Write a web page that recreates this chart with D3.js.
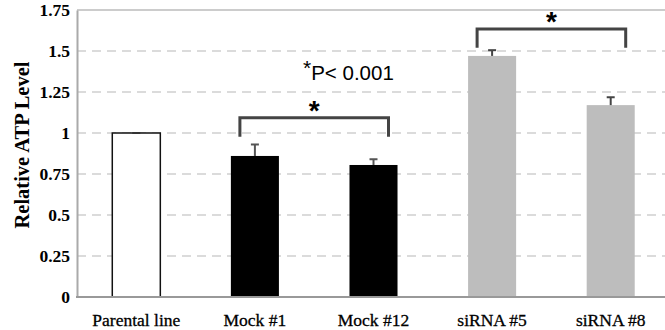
<!DOCTYPE html>
<html>
<head>
<meta charset="utf-8">
<script src="https://cdn.jsdelivr.net/npm/d3@7"></script>
<style>
  body { margin: 0; background: #fff; }
  svg { display: block; }
</style>
</head>
<body>
<script>
// data
var categories = ["Parental line", "Mock #1", "Mock #12", "siRNA #5", "siRNA #8"];
var values = [1.0, 0.86, 0.805, 1.47, 1.17];
var errors = [0.0, 0.07, 0.035, 0.035, 0.048];
var yTicks = [0, 0.25, 0.5, 0.75, 1, 1.25, 1.5, 1.75];
var tickLabels = ["0", "0.25", "0.5", "0.75", "1", "1.25", "1.5", "1.75"];
// significance brackets: [from, to, top, leg bottom]
var brackets = [[1, 2, 1.093, 0.977], [3, 4, 1.634, 1.52]];

var fills = ["#fff", "#000", "#000", "#bdbdbd", "#bdbdbd"];
var errColor = ["#333", "#555", "#555", "#444", "#444"];

var width = 665, height = 330;
var margin = {top: 10, right: -5, bottom: 33, left: 77};

var svg = d3.select("body").append("svg")
    .attr("width", width)
    .attr("height", height);

var x = d3.scaleBand()
    .domain(categories)
    .range([margin.left, width - margin.right])
    .paddingInner(0.595)
    .paddingOuter(0.2975);

var y = d3.scaleLinear()
    .domain([0, 1.75])
    .range([height - margin.bottom, margin.top]);

// gridlines
svg.selectAll(".grid")
    .data(yTicks.filter(function(d) { return d > 0 && d < 1.75; }))
    .enter().append("line")
    .attr("class", "grid")
    .attr("x1", margin.left)
    .attr("x2", width)
    .attr("y1", function(d) { return y(d); })
    .attr("y2", function(d) { return y(d); })
    .attr("stroke", "#cfcfcf")
    .attr("stroke-width", 1.5)
    .attr("stroke-dasharray", "9,6");

// top border
svg.append("line")
    .attr("x1", margin.left).attr("x2", width)
    .attr("y1", y(1.75)).attr("y2", y(1.75))
    .attr("stroke", "#bbb")
    .attr("stroke-width", 1.5);

// y axis
var yAxis = d3.axisLeft(y)
    .tickValues(yTicks)
    .tickFormat(function(d, i) { return tickLabels[i]; })
    .tickSize(0)
    .tickPadding(7);

var gy = svg.append("g")
    .attr("transform", "translate(" + margin.left + ",0)")
    .call(yAxis);
gy.select(".domain").attr("stroke", "#aaa").attr("stroke-width", 2);
gy.selectAll("text")
    .style("font-family", "'Liberation Serif', serif")
    .style("font-weight", "bold")
    .style("font-size", "17.5px")
    .attr("fill", "#000");

// bars
svg.selectAll(".bar")
    .data(values)
    .enter().append("rect")
    .attr("class", "bar")
    .attr("x", function(d, i) { return x(categories[i]); })
    .attr("width", x.bandwidth())
    .attr("y", function(d) { return y(d); })
    .attr("height", function(d) { return y(0) - y(d); })
    .attr("fill", function(d, i) { return fills[i]; })
    .attr("stroke", function(d, i) { return i == 0 ? "#111" : "none"; })
    .attr("stroke-width", 1.5);

// error bars
var eb = svg.selectAll(".err")
    .data(values)
    .enter().append("g")
    .attr("class", "err")
    .attr("stroke", function(d, i) { return errColor[i]; })
    .attr("stroke-width", 2);

eb.append("line")
    .attr("x1", function(d, i) { return x(categories[i]) + x.bandwidth() / 2; })
    .attr("x2", function(d, i) { return x(categories[i]) + x.bandwidth() / 2; })
    .attr("y1", function(d) { return y(d); })
    .attr("y2", function(d, i) { return y(d + errors[i]); });

eb.append("line")
    .attr("x1", function(d, i) { return x(categories[i]) + x.bandwidth() / 2 - 4; })
    .attr("x2", function(d, i) { return x(categories[i]) + x.bandwidth() / 2 + 4; })
    .attr("y1", function(d, i) { return y(d + errors[i]); })
    .attr("y2", function(d, i) { return y(d + errors[i]); });

// bottom axis line
svg.append("line")
    .attr("x1", margin.left - 1).attr("x2", width)
    .attr("y1", y(0)).attr("y2", y(0))
    .attr("stroke", "#999")
    .attr("stroke-width", 2);

// x labels
svg.selectAll(".xlab")
    .data(categories)
    .enter().append("text")
    .attr("class", "xlab")
    .attr("x", function(d) { return x(d) + x.bandwidth() / 2; })
    .attr("y", 326)
    .attr("text-anchor", "middle")
    .style("font-family", "'Liberation Serif', serif")
    .style("font-size", "17.5px")
    .style("stroke", "#000")
    .style("stroke-width", 0.3)
    .text(function(d) { return d; });

// y title
svg.append("text")
    .attr("transform", "translate(29," + 145 + ") rotate(-90)")
    .attr("text-anchor", "middle")
    .style("font-family", "'Liberation Serif', serif")
    .style("font-weight", "bold")
    .style("font-size", "20.5px")
    .text("Relative ATP Level");

// significance brackets
brackets.forEach(function(b) {
    var x0 = x(categories[b[0]]) + x.bandwidth() / 2 - 15;
    var x1 = x(categories[b[1]]) + x.bandwidth() / 2 + 15;
    svg.append("path")
        .attr("d", "M" + x0 + "," + y(b[3]) + "V" + y(b[2]) + "H" + x1 + "V" + y(b[3]))
        .attr("fill", "none")
        .attr("stroke", "#444")
        .attr("stroke-width", 3);
    svg.append("text")
        .attr("x", (x0 + x1) / 2)
        .attr("y", y(b[2]) + 2)
        .attr("text-anchor", "middle")
        .style("font-family", "'Liberation Sans', Arial, sans-serif")
        .style("font-weight", "bold")
        .style("font-size", "28px")
        .text("*");
});

// p-value note
var note = svg.append("text")
    .attr("x", 303)
    .attr("y", 80)
    .style("font-family", "'Liberation Sans', Arial, sans-serif")
    .style("font-size", "20.5px");
note.append("tspan")
    .attr("dy", -5)
    .style("font-size", "21px")
    .text("*");
note.append("tspan")
    .attr("dy", 5)
    .text("P< 0.001");
</script>
</body>
</html>
